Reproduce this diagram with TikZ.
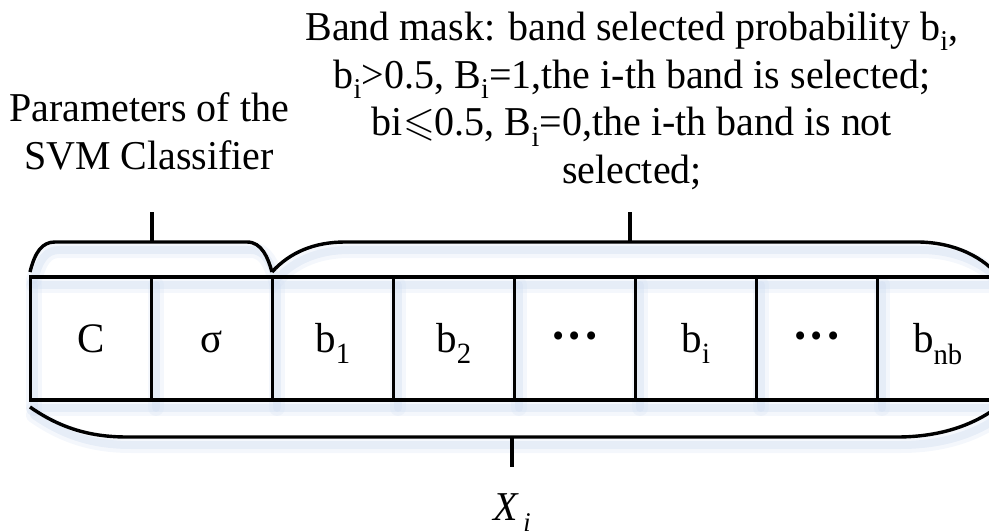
\documentclass[tikz,border=0pt]{standalone}
\usepackage{fontspec}
\setmainfont[FakeStretch=0.975]{Liberation Serif}
\usepackage{amssymb}
\definecolor{shadowblue}{RGB}{212,224,242}
\newcommand{\sub}[1]{\textsubscript{#1}}
\begin{document}
\begin{tikzpicture}[x=1pt,y=-1pt,
  stroke/.style={line width=3.4pt, line cap=butt},
  hazewide/.style={line width=16pt, draw=shadowblue, opacity=0.25, line cap=round},
  hazenarrow/.style={line width=8pt, draw=shadowblue, opacity=0.45, line cap=round},
  cell/.style={draw, line width=3.4pt, minimum width=121pt, minimum height=123pt,
    inner sep=0pt, text height=28pt, text depth=0pt,
    font=\fontsize{42}{48}\selectfont},
  label/.style={font=\fontsize{41}{48}\selectfont, align=center, inner sep=0pt}]
\useasboundingbox (0,0) rectangle (989,532);

% soft shadows under the strip and the braces
\foreach \h in {hazewide,hazenarrow}{
\begin{scope}[shift={(4,8)}]
  \draw[\h] (30,277) -- (1000,277) (30,400) -- (1000,400);
  \foreach \x in {30,152,273,394,515,636,757,878} \draw[\h] (\x,277) -- (\x,400);
  \draw[\h] (30,407) .. controls (60,428) and (90,437) .. (127,437) -- (897,437)
    .. controls (940,437) and (975,425) .. (1000,405);
  \draw[\h] (30,272) .. controls (35,252) and (42,242) .. (55,242) -- (247,242)
    .. controls (262,242) and (268,258) .. (272,272)
    .. controls (290,252) and (315,242) .. (345,242) -- (917,242)
    .. controls (955,242) and (985,258) .. (1000,278);
\end{scope}}

% the parameter vector
\node[cell] (c)   at (91,338.5)  {C};
\node[cell] (sg)  at (212,338.5) {σ};
\node[cell] (b1)  at (333,338.5) {b\sub{1}};
\node[cell] (b2)  at (454,338.5) {b\sub{2}};
\node[cell] (d1)  at (575,338.5) {\fontsize{50}{50}\selectfont\textbf{···}};
\node[cell] (bi)  at (696,338.5) {b\sub{i}};
\node[cell] (d2)  at (817,338.5) {\fontsize{50}{50}\selectfont\textbf{···}};
\node[cell] (bnb) at (938,338.5) {b\sub{nb}};

% brace over the SVM parameters
\draw[stroke] (30,272) .. controls (35,252) and (42,242) .. (55,242) -- (247,242)
  .. controls (262,242) and (268,258) .. (272,272) coordinate (lb1);
\coordinate (svmtip) at (152,242);
% brace over the band mask
\draw[stroke] (lb1) .. controls (290,252) and (315,242) .. (345,242) -- (917,242)
  .. controls (955,242) and (985,258) .. (1000,278);
\coordinate (masktip) at (630,242);
% brace under the whole vector
\draw[stroke] (30,407) .. controls (60,428) and (90,437) .. (127,437) -- (897,437)
  .. controls (940,437) and (975,425) .. (1000,405);
\coordinate (alltip) at (512,437);

% labels (anchored at the baseline of the last line)
\node[label, anchor=base] (svm) at (149,170)
  {Parameters of the\\SVM Classifier};
\node[label, anchor=base] (mask) at (632,184)
  {Band mask: band selected probability b\sub{i},\\
   b\sub{i}>0.5, B\sub{i}=1,the i-th band is selected;\\
   bi$\leqslant$0.5, B\sub{i}=0,the i-th band is not\\
   selected;};
\node[label, anchor=base] (xi) at (512,520)
  {\textit{X}\raisebox{-0.28em}{\fontsize{27}{27}\selectfont\,\textit{i}}};

\draw[stroke] (svmtip) -- ++(0,-30);
\draw[stroke] (masktip) -- ++(0,-30);
\draw[stroke] (alltip) -- ++(0,30);
\end{tikzpicture}
\end{document}
